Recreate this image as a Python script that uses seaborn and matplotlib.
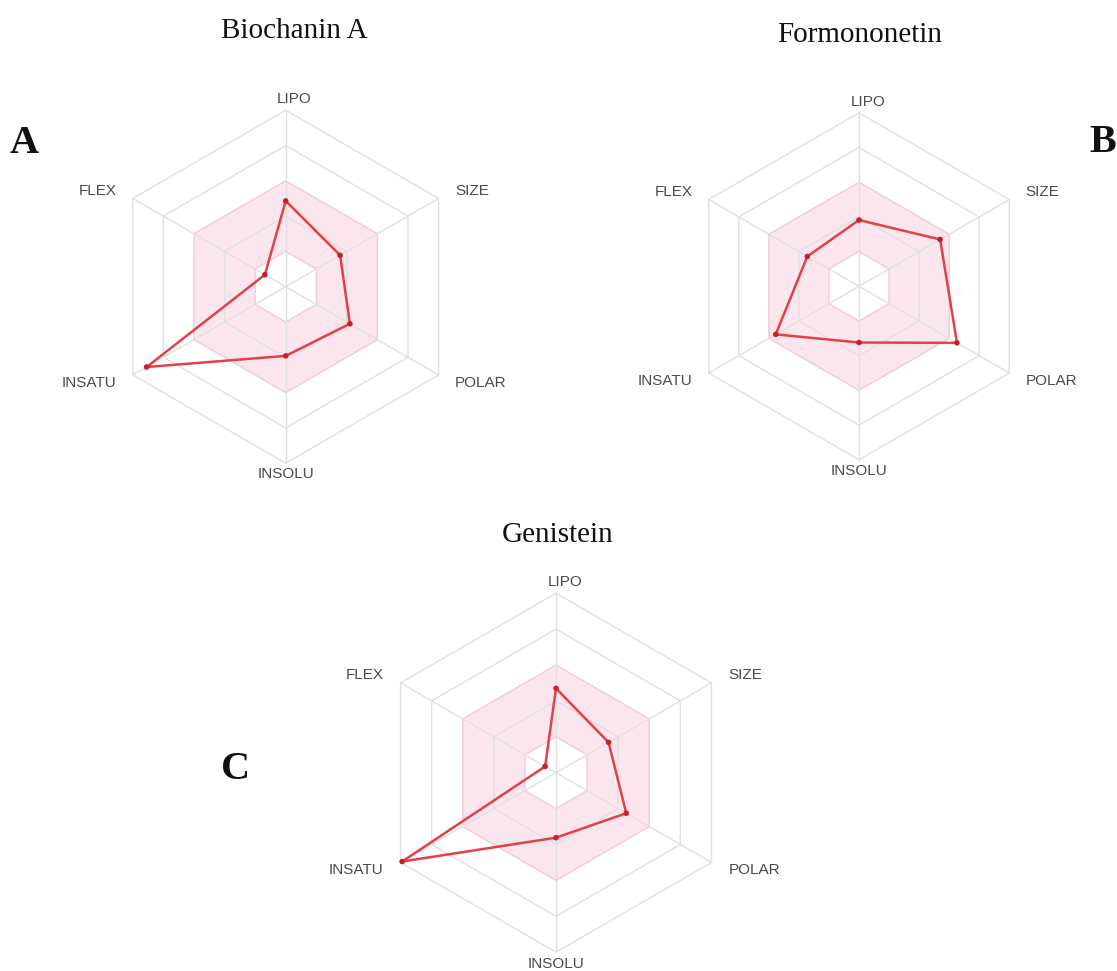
import numpy as np
import pandas as pd
import matplotlib
matplotlib.use('Agg')
import matplotlib.pyplot as plt
import seaborn as sns

# Bioavailability radar values (0..5 scale)
categories = ['LIPO', 'SIZE', 'POLAR', 'INSOLU', 'INSATU', 'FLEX']
biochanin_a = [2.43, 1.78, 2.10, 1.96, 4.55, 0.68]
formononetin = [1.91, 2.70, 3.26, 1.62, 2.77, 1.72]
genistein = [2.35, 1.69, 2.26, 1.81, 4.95, 0.35]

compounds = ['Biochanin A', 'Formononetin', 'Genistein']
panel_letters = ['A', 'B', 'C']
rings = [1, 2, 3, 4, 5]
optimal_range = (1, 3)

W, H = 1117, 971
L = 7.0

sns.set_style('white')
plt.rcParams['font.family'] = ['Liberation Sans', 'DejaVu Sans']

angles = np.deg2rad(90 - 60 * np.arange(len(categories)))


def hexagon(r):
    return r * np.cos(angles), r * np.sin(angles)


def radar(ax, values):
    # pink optimal zone with white hole
    x3, y3 = hexagon(optimal_range[1])
    x1, y1 = hexagon(optimal_range[0])
    ax.fill(x3, y3, facecolor='#fce6ed', edgecolor='none', zorder=1)
    ax.fill(x1, y1, facecolor='white', edgecolor='none', zorder=1.5)
    # grid rings and spokes
    for r in rings:
        x, y = hexagon(r)
        col = '#efcbd5' if r in optimal_range else '#e0e0e0'
        ax.plot(np.append(x, x[0]), np.append(y, y[0]), color=col, lw=1.0, zorder=2)
    xo, yo = hexagon(rings[-1])
    for x, y in zip(xo, yo):
        ax.plot([0, x], [0, y], color='#e0e0e0', lw=1.0, zorder=2)

    vals = np.array(values)
    df = pd.DataFrame({'x': vals * np.cos(angles), 'y': vals * np.sin(angles),
                       'cat': categories})
    closed = pd.concat([df, df.iloc[:1]], ignore_index=True)
    sns.lineplot(data=closed, x='x', y='y', sort=False, estimator=None,
                 color='#e2404a', lw=1.8, ax=ax, zorder=3)
    sns.scatterplot(data=df, x='x', y='y', color='#c81e2a', s=16,
                    edgecolor='none', ax=ax, zorder=4)

    # axis labels
    for cat, a in zip(categories, angles):
        c, s = np.cos(a), np.sin(a)
        if abs(c) < 1e-6:
            lx = 0.25 if s > 0 else 0.0
            ax.text(lx, 5.32 * np.sign(s), cat, ha='center', va='center',
                    fontsize=11, color='#4a4a4a')
        else:
            ax.text(4.8 * np.sign(c), 5 * s + 0.22 * np.sign(s), cat,
                    ha='left' if c > 0 else 'right', va='center',
                    fontsize=11, color='#4a4a4a')

    ax.set_xlim(-L, L)
    ax.set_ylim(-L, L)
    ax.set_aspect('equal')
    ax.axis('off')
    ax.patch.set_alpha(0)


fig = plt.figure(figsize=(W / 100, H / 100), dpi=100)

# chart centres (px from top-left) and unit size in px
layout = [(285.7, 286.7, 35.3), (859.0, 286.3, 34.7), (556.0, 772.7, 35.9)]
series = [biochanin_a, formononetin, genistein]
title_pos = [(294, 38.3), (860, 42), (558, 541.7)]
letter_pos = [(24, 153), (1103, 151.7), (236, 779)]

for (cx, cy, u), vals in zip(layout, series):
    side = 2 * L * u
    ax = fig.add_axes([(cx - L * u) / W, (H - cy - L * u) / H, side / W, side / H])
    radar(ax, vals)

for name, (tx, ty) in zip(compounds, title_pos):
    fig.text(tx / W, 1 - ty / H, name, ha='center', va='baseline',
             fontsize=21, family='Liberation Serif', color='#111111')

for letter, (tx, ty) in zip(panel_letters, letter_pos):
    fig.text(tx / W, 1 - ty / H, letter, ha='center', va='baseline',
             fontsize=29, fontweight='bold', family='Liberation Serif', color='#111111')

fig.savefig('out.png', dpi=100, facecolor='white')
